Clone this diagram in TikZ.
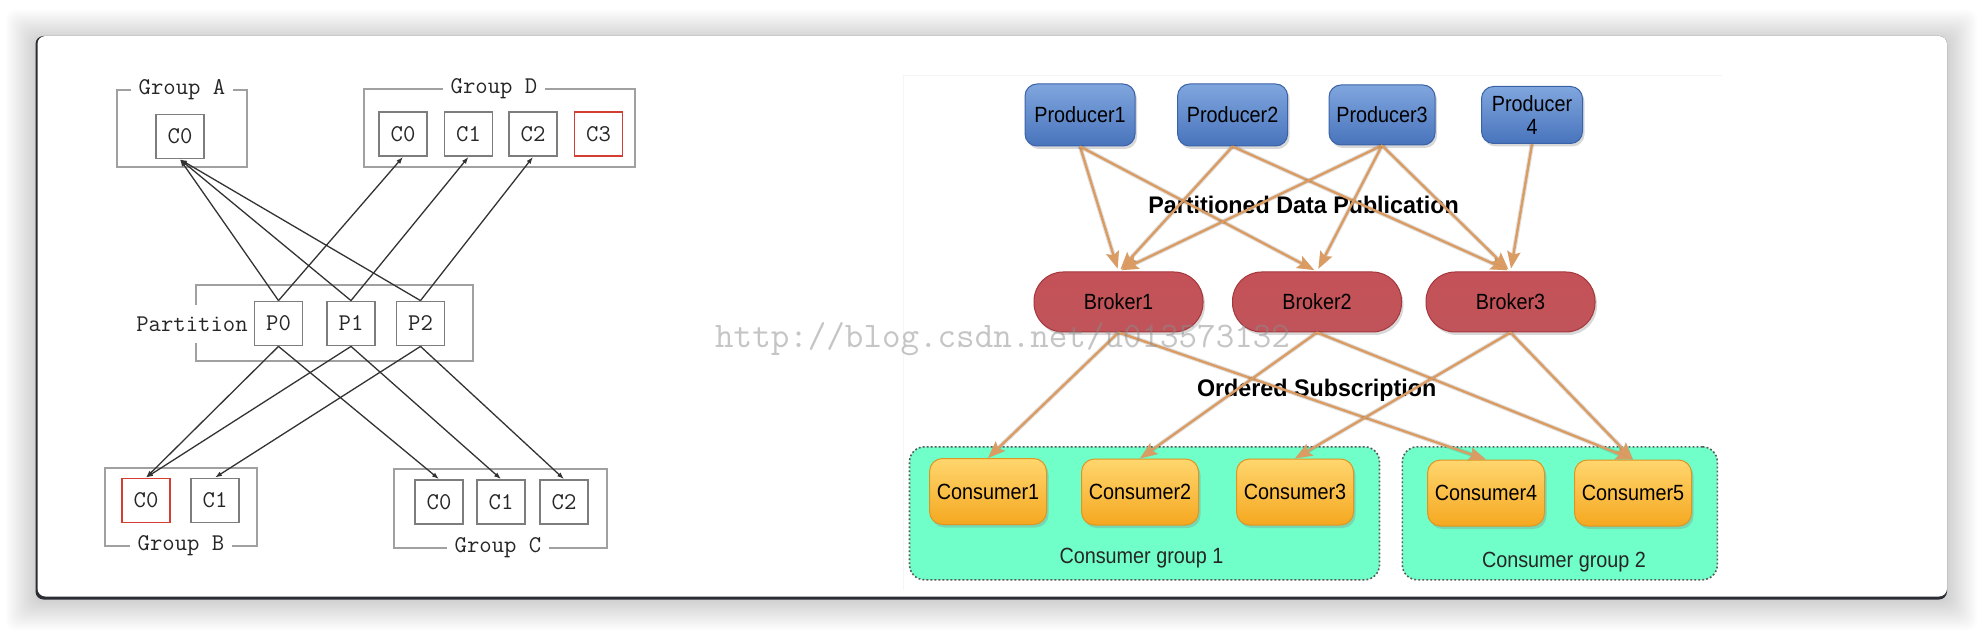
\documentclass[tikz,border=0pt]{standalone}
\usepackage{fontspec}
\newfontfamily\diagsf[FakeStretch=0.9]{Liberation Sans}
\newfontfamily\headsf[FakeStretch=0.97]{Liberation Sans}
\usetikzlibrary{arrows.meta,shadows}
\definecolor{cardedge}{RGB}{42,45,52}
\definecolor{grpgray}{RGB}{160,160,160}
\definecolor{boxgray}{RGB}{125,125,125}
\definecolor{boxred}{RGB}{212,62,50}
\definecolor{prodtop}{RGB}{128,166,222}
\definecolor{prodbot}{RGB}{72,116,188}
\definecolor{proddraw}{RGB}{58,98,168}
\definecolor{brotop}{RGB}{196,82,88}
\definecolor{bromid}{RGB}{222,145,148}
\definecolor{brobot}{RGB}{192,84,90}
\definecolor{brodraw}{RGB}{165,55,60}
\definecolor{contop}{RGB}{255,214,110}
\definecolor{conbot}{RGB}{245,168,32}
\definecolor{condraw}{RGB}{222,150,35}
\definecolor{aqua}{RGB}{112,255,200}
\definecolor{flowc}{RGB}{218,156,98}

\begin{document}
\begin{tikzpicture}[x=1pt, y=-1pt,
    every node/.style={align=center, inner sep=0pt},
    grp/.style={draw=grpgray, line width=1.8pt},
    glabel/.style={fill=white, inner xsep=8pt, inner ysep=3pt, text=black!85,
                   font=\ttfamily\fontsize{24pt}{26pt}\selectfont},
    cbox/.style={draw=boxgray, line width=1.8pt, fill=white, minimum width=48pt,
                 minimum height=44pt, text=black!85,
                 font=\ttfamily\fontsize{24pt}{26pt}\selectfont},
    arr/.style={-{Latex[length=7pt,width=5pt]}, line width=1.3pt, black!80},
    shade/.style={drop shadow={shadow xshift=2pt, shadow yshift=-3pt, opacity=0.3}},
    prod/.style={shade, draw=proddraw, line width=1pt, rounded corners=12pt,
                 top color=prodtop, bottom color=prodbot, minimum width=110pt,
                 minimum height=62pt, font=\diagsf\fontsize{22pt}{23pt}\selectfont},
    broker/.style={shade, draw=brodraw, line width=1pt, rounded corners=29pt,
                   top color=brotop, middle color=bromid, bottom color=brobot,
                   minimum width=169pt, minimum height=60pt,
                   font=\diagsf\fontsize{22pt}{23pt}\selectfont},
    cons/.style={shade, draw=condraw, line width=1pt, rounded corners=13pt,
                 top color=contop, bottom color=conbot, minimum width=117pt,
                 minimum height=66pt, font=\diagsf\fontsize{22pt}{23pt}\selectfont},
    cgroup/.style={draw=black!65, fill=aqua, line width=1.6pt, rounded corners=15pt,
                   dash pattern=on 1.8pt off 2.2pt},
    head/.style={font=\headsf\bfseries\fontsize{24pt}{26pt}\selectfont},
    farr/.style={-{Stealth[length=17pt,width=13pt,inset=3pt]}, line width=2.4pt,
                 flowc, preaction={draw=black, opacity=0.12, line width=4.5pt}},
]
    \useasboundingbox (0,0) rectangle (1984,636);
    \fill[white] (0,0) rectangle (1984,636);
    % card and its shadow
    \foreach \s in {2,4,...,30}
        \fill[black, opacity=0.012, rounded corners=10pt]
            (36-\s,40-\s) rectangle (1947+\s,600+\s);
    \fill[cardedge, rounded corners=8pt] (35.5,36) rectangle (1947,599.5);
    \fill[white, rounded corners=8pt] (37.5,36) rectangle (1947,596.5);

    % ---- left: groups and partitions ----
    \node[grp, minimum width=130pt, minimum height=77pt] (grpA) at (182,128.5) {};
    \node[grp, minimum width=271pt, minimum height=78pt] (grpD) at (499.5,128) {};
    \node[grp, minimum width=277pt, minimum height=76pt] (part) at (334.5,323) {};
    \node[grp, minimum width=152pt, minimum height=78pt] (grpB) at (181,507) {};
    \node[grp, minimum width=213pt, minimum height=79pt] (grpC) at (500.5,508.5) {};
    \node[glabel] (labA) at (182,90) {Group A};
    \node[glabel] (labD) at (494,89) {Group D};
    \node[glabel, inner xsep=0pt, inner ysep=12pt] (labP) at (192,324) {Partition};
    \node[glabel] (labB) at (181,546) {Group B};
    \node[glabel] (labC) at (498,548) {Group C};

    \node[cbox] (a0) at (180,136.5) {C0};
    \node[cbox] (d0) at (403,134) {C0};
    \node[cbox] (d1) at (468.5,134) {C1};
    \node[cbox] (d2) at (533,134) {C2};
    \node[cbox, draw=boxred] (d3) at (598.5,134) {C3};
    \node[cbox] (p0) at (278.5,323.5) {P0};
    \node[cbox] (p1) at (351,323.5) {P1};
    \node[cbox] (p2) at (420.5,323.5) {P2};
    \node[cbox, draw=boxred] (b0) at (146,500.5) {C0};
    \node[cbox] (b1) at (215,500.5) {C1};
    \node[cbox] (c0) at (439,502) {C0};
    \node[cbox] (c1) at (501,502) {C1};
    \node[cbox] (c2) at (564,502) {C2};

    \draw[arr] (p0.north) -- (a0.south);
    \draw[arr] (p1.north) -- (a0.south);
    \draw[arr] (p2.north) -- (a0.south);
    \draw[arr] (p0.north) -- (d0.south);
    \draw[arr] (p1.north) -- (d1.south);
    \draw[arr] (p2.north) -- (d2.south);
    \draw[arr] (p0.south) -- (b0.north);
    \draw[arr] (p1.south) -- (b0.north);
    \draw[arr] (p2.south) -- (b1.north);
    \draw[arr] (p0.south) -- (c0.north);
    \draw[arr] (p1.south) -- (c1.north);
    \draw[arr] (p2.south) -- (c2.north);

    % ---- right: producers, brokers, consumers ----
    \draw[black!4, line width=1pt] (903,590) -- (903,76) -- (1722,76);
    \node[cgroup, minimum width=470pt, minimum height=133pt] (cg1) at (1144.5,513.3) {};
    \node[cgroup, minimum width=315pt, minimum height=133pt] (cg2) at (1559.8,513.3) {};

    \node[prod] (prod1) at (1080,115) {Producer1};
    \node[prod] (prod2) at (1232.6,115) {Producer2};
    \node[prod, minimum width=106pt, minimum height=60pt] (prod3) at (1382,115) {Producer3};
    \node[prod, minimum width=101pt, minimum height=57pt] (prod4) at (1532,115) {Producer\\4};
    \node[head] (pub) at (1303.5,205) {Partitioned Data Publication};
    \node[broker] (bro1) at (1118.5,302) {Broker1};
    \node[broker] (bro2) at (1317,302) {Broker2};
    \node[broker] (bro3) at (1510.5,302) {Broker3};
    \node[head] (sub) at (1316.7,390) {Ordered Subscription};
    \node[cons] (con1) at (988,491.5) {Consumer1};
    \node[cons] (con2) at (1140,492) {Consumer2};
    \node[cons] (con3) at (1295,492) {Consumer3};
    \node[cons] (con4) at (1486,493) {Consumer4};
    \node[cons] (con5) at (1633,493) {Consumer5};
    \node[font=\diagsf\fontsize{22pt}{23pt}\selectfont, text=black!85] (cg1lab) at (1141.5,558) {Consumer group 1};
    \node[font=\diagsf\fontsize{22pt}{23pt}\selectfont, text=black!85] (cg2lab) at (1564,561.7) {Consumer group 2};

    \draw[farr, shorten >=3pt] (prod1.south) -- (bro1.north);
    \draw[farr, shorten >=3pt] (prod1.south) -- (bro2.north);
    \draw[farr, shorten >=3pt] (prod2.south) -- (bro1.north);
    \draw[farr, shorten >=3pt] (prod2.south) -- (bro3.north);
    \draw[farr, shorten >=3pt] (prod3.south) -- (bro1.north);
    \draw[farr, shorten >=3pt] (prod3.south) -- (bro2.north);
    \draw[farr, shorten >=3pt] (prod3.south) -- (bro3.north);
    \draw[farr, shorten >=3pt] (prod4.south) -- (bro3.north);
    \draw[farr] (bro1.south) -- (con1.north);
    \draw[farr] (bro1.south) -- (con4.north);
    \draw[farr] (bro2.south) -- (con2.north);
    \draw[farr] (bro2.south) -- (con5.north);
    \draw[farr] (bro3.south) -- (con3.north);
    \draw[farr] (bro3.south) -- (con5.north);

    % watermark
    \node[anchor=base west, text=black!45, text opacity=0.5,
          font=\ttfamily\fontsize{36pt}{38pt}\selectfont] (mark) at (715,347)
        {http://blog.csdn.net/u013573132};
\end{tikzpicture}
\end{document}
